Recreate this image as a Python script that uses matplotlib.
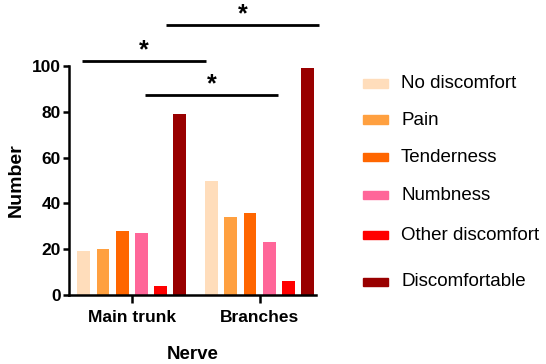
import matplotlib
matplotlib.use("Agg")
import matplotlib.pyplot as plt
import numpy as np
from matplotlib.patches import Rectangle

plt.rcParams['font.family'] = ['Liberation Sans', 'DejaVu Sans']

groups = ["Main trunk", "Branches"]
series = ["No discomfort", "Pain", "Tenderness", "Numbness", "Other discomfort", "Discomfortable"]
main_trunk = [19, 20, 28, 27, 4, 79]
branches = [50, 34, 36, 23, 6, 99]
colors = ["#FFDDBB", "#FFA040", "#FF6600", "#FF6699", "#FF0000", "#990000"]
yticks = [0, 20, 40, 60, 80, 100]

fig = plt.figure(figsize=(5.46, 3.64), dpi=100)
ax = fig.add_axes([69/546, 69/364, 247/546, 229/364])

step = 0.15
width = 0.10
x = np.arange(len(groups))
vals = np.array([main_trunk, branches])
for i, (name, c) in enumerate(zip(series, colors)):
    ax.bar(x + (i - 2.5) * step, vals[:, i], width=width, color=c, label=name)

ax.set_xlim(-0.49, 1.44)
ax.set_ylim(0, 100)
ax.set_yticks(yticks)
ax.set_xticks(x)
ax.set_xticklabels(groups, fontsize=12.5, fontweight='bold')
for lab in ax.get_yticklabels():
    lab.set_fontsize(12.5)
    lab.set_fontweight('bold')
ax.spines['top'].set_visible(False)
ax.spines['right'].set_visible(False)
for s in ['left', 'bottom']:
    ax.spines[s].set_linewidth(1.8)
ax.tick_params(axis='x', length=6, width=1.8, pad=5)
ax.tick_params(axis='y', length=4, width=1.8, pad=2)
ax.set_ylabel("Number", fontsize=14, fontweight='bold', labelpad=5)
ax.set_xlabel("Nerve", fontsize=13.5, fontweight='bold', labelpad=15)

# significance brackets
sig = [(-0.385, 0.58, 102.2), (0.105, 1.14, 87.3), (0.268, 1.46, 117.9)]
for x0, x1, yy in sig:
    ax.plot([x0, x1], [yy, yy], color='black', lw=2, clip_on=False, solid_capstyle='butt')
    ax.text((x0 + x1) / 2, yy - 0.5, "*", ha='center', va='bottom', fontsize=18,
            fontweight='bold', clip_on=False)

# legend (manual placement)
ys = [84, 120, 157, 195, 235, 282]
for name, c, yp in zip(series, colors, ys):
    fig.patches.append(Rectangle((363/546, (364 - yp - 4)/364), 25/546, 8.5/364,
                                 transform=fig.transFigure, color=c, figure=fig))
    fig.text(401/546, (364 - yp)/364, name, fontsize=13.5, va='center', ha='left')

fig.savefig("out.png", dpi=100)
